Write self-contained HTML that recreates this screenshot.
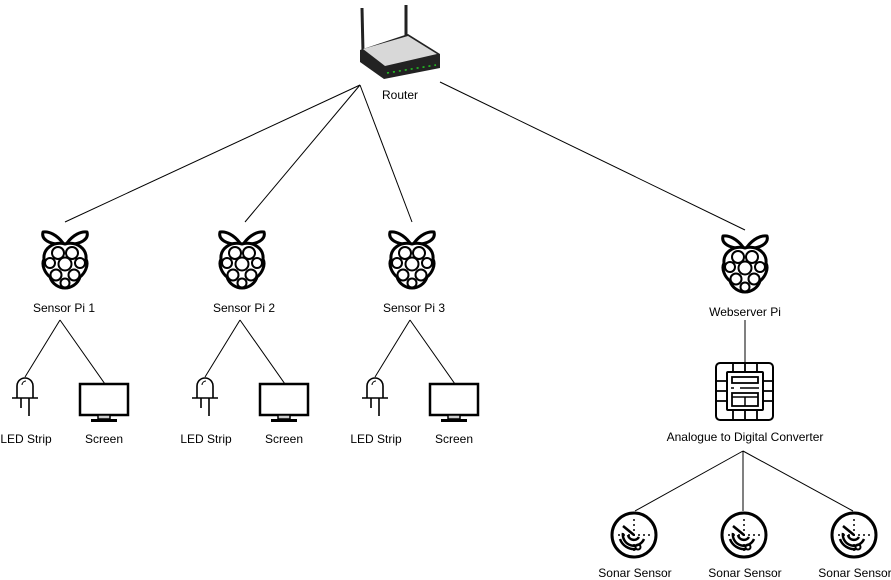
<!DOCTYPE html>
<html><head><meta charset="utf-8"><style>
html,body{margin:0;padding:0;background:#fff;}
svg{display:block;}
text{font-family:"Liberation Sans",sans-serif;font-size:12px;fill:#000;text-anchor:middle;}
</style></head><body>
<svg width="891" height="580" viewBox="0 0 891 580" xmlns="http://www.w3.org/2000/svg">
<defs>
<g id="pi">
  <path d="M-2,16 C-8,8 -16,4 -22,5 C-24,12 -16,18 -2,17 Z" fill="#fff" stroke="#000" stroke-width="3" stroke-linejoin="round"/>
  <path d="M2,16 C8,8 16,4 22,5 C24,12 16,18 2,17 Z" fill="#fff" stroke="#000" stroke-width="3" stroke-linejoin="round"/>
  <path d="M0,17 C-12,14 -22,22 -21,32 C-24,38 -20,46 -15,50 C-13,57 -6,61 0,61 C6,61 13,57 15,50 C20,46 24,38 21,32 C22,22 12,14 0,17 Z" fill="#fff" stroke="#000" stroke-width="3"/>
  <g fill="none" stroke="#000" stroke-width="2">
    <circle cx="-7" cy="26" r="6"/><circle cx="7" cy="26" r="6"/>
    <circle cx="-15" cy="36" r="5"/><circle cx="0" cy="37" r="6.5"/><circle cx="15" cy="36" r="5"/>
    <circle cx="-9" cy="48" r="5.5"/><circle cx="9" cy="48" r="5.5"/>
    <circle cx="0" cy="56" r="4.5"/>
  </g>
</g>
<g id="led" fill="none" stroke="#000" stroke-width="1.6">
  <path d="M-8,22 V10 A8,8 0 0 1 8,10 V22"/>
  <path d="M-13,22 H13"/>
  <path d="M-4,22 V32 M4,22 V40"/>
  <path d="M-3,9 A4,4 0 0 1 1,5" stroke-width="1"/>
</g>
<g id="scr">
  <rect x="-24" y="0" width="48" height="31" fill="#fff" stroke="#000" stroke-width="2.5"/>
  <rect x="-6" y="31" width="12" height="4" fill="#ccc" stroke="#000" stroke-width="1.5"/>
  <rect x="-13" y="35" width="26" height="3" fill="#000"/>
</g>
<g id="sonar" fill="none" stroke="#000">
  <circle cx="0" cy="0" r="22" stroke-width="3"/>
  <path d="M0,-16 V16 M-16,0 H16" stroke-width="1.5" stroke-dasharray="2,3"/>
  <path d="M-11,-9 L0,0" stroke-width="2.5"/>
  <path d="M-11,-2 A11,11 0 0 0 10,4" stroke-width="2.5"/>
  <path d="M-6,0 A6,6 0 0 0 5,2" stroke-width="2.5"/>
  <path d="M-14,4 A15,15 0 0 0 2,14" stroke-width="2.5"/>
  <circle cx="4" cy="12" r="2.5" stroke-width="2"/>
</g>
</defs>

<g stroke="#000" stroke-width="1" fill="none">
  <path d="M360,85 L65,222"/>
  <path d="M360,85 L245,222"/>
  <path d="M360,85 L412,222"/>
  <path d="M440,82 L745,230"/>
  <path d="M60,320 L25,377 M60,320 L105,384"/>
  <path d="M240,320 L205,377 M240,320 L285,384"/>
  <path d="M410,320 L375,377 M410,320 L455,384"/>
  <path d="M745,320 V362"/>
  <path d="M743,451 L635,511 M743,451 V511 M743,451 L853,511"/>
</g>

<g>
  <path d="M363,52 L362,8" stroke="#222" stroke-width="3"/>
  <path d="M406,42 L406,5" stroke="#222" stroke-width="3"/>
  <path d="M360,50 L408,34 L440,54 L440,68 L384,79 L360,62 Z" fill="#222"/>
  <path d="M363,49 L408,36 L437,54 L385,66 Z" fill="#d8d8d8"/>
  <path d="M387,73 L436,65" stroke="#2c2" stroke-width="1.5" stroke-dasharray="2,4"/>
</g>
<text x="400" y="99">Router</text>

<use href="#pi" x="65" y="227"/>
<use href="#pi" x="242" y="227"/>
<use href="#pi" x="412" y="227"/>
<use href="#pi" x="745" y="231"/>
<text x="64" y="312">Sensor Pi 1</text>
<text x="244" y="312">Sensor Pi 2</text>
<text x="414" y="312">Sensor Pi 3</text>
<text x="745" y="316">Webserver Pi</text>

<use href="#led" x="25" y="376"/>
<use href="#led" x="205" y="376"/>
<use href="#led" x="375" y="376"/>
<use href="#scr" x="104" y="384"/>
<use href="#scr" x="284" y="384"/>
<use href="#scr" x="454" y="384"/>
<text x="26" y="443">LED Strip</text><text x="104" y="443">Screen</text>
<text x="206" y="443">LED Strip</text><text x="284" y="443">Screen</text>
<text x="376" y="443">LED Strip</text><text x="454" y="443">Screen</text>

<g fill="none" stroke="#000">
  <rect x="716" y="363" width="57" height="57" rx="4" stroke-width="2"/>
  <rect x="727" y="372" width="36" height="38" rx="1" stroke-width="2"/>
  <path d="M733,363 V372 M745,363 V372 M757,363 V372 M733,410 V420 M745,410 V420 M757,410 V420 M716,381 H727 M716,391 H727 M716,401 H727 M763,381 H773 M763,391 H773 M763,401 H773" stroke-width="1.8"/>
  <rect x="732" y="377" width="26" height="6" stroke-width="1.8"/>
  <path d="M731,388 H734 M740,388 H759" stroke-width="1.5"/>
  <rect x="732" y="393" width="26" height="13" stroke-width="1.8"/>
  <path d="M732,397 H758 M745,397 V406" stroke-width="1.5"/>
</g>
<text x="745" y="441">Analogue to Digital Converter</text>

<use href="#sonar" x="634" y="535"/>
<use href="#sonar" x="744" y="535"/>
<use href="#sonar" x="854" y="535"/>
<text x="635" y="577">Sonar Sensor</text>
<text x="745" y="577">Sonar Sensor</text>
<text x="855" y="577">Sonar Sensor</text>
</svg>
</body></html>
